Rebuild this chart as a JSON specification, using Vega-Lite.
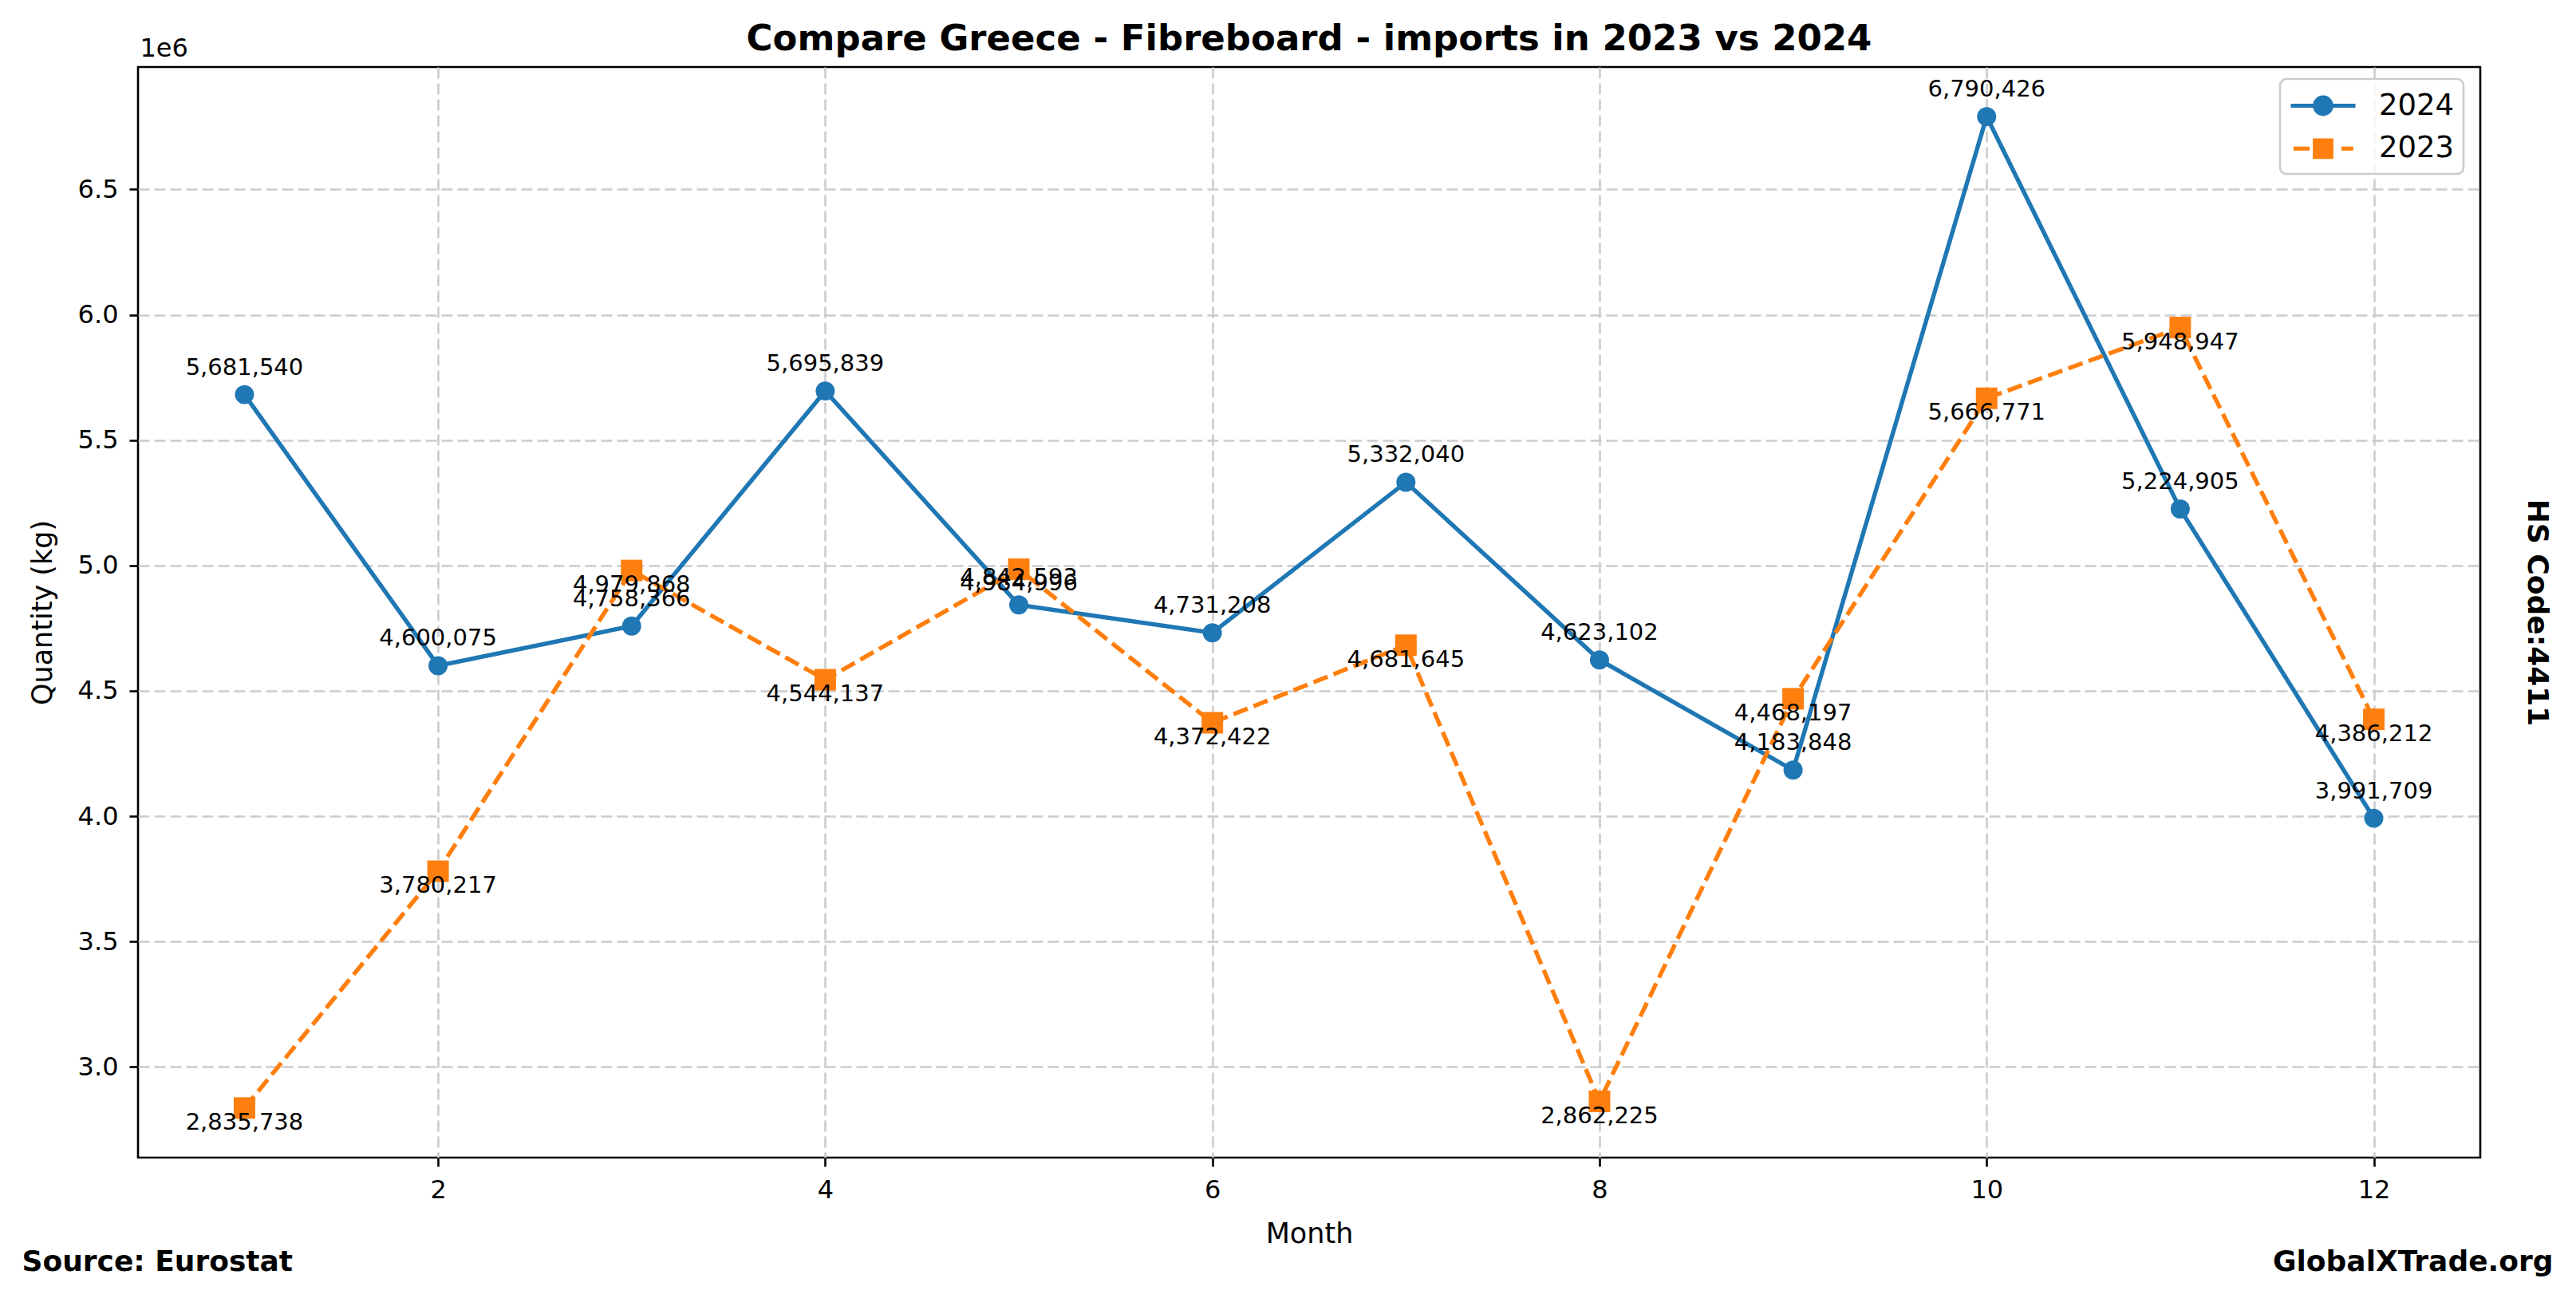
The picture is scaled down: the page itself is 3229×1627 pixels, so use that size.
{
  "$schema": "https://vega.github.io/schema/vega-lite/v6.json",
  "width": 2936,
  "height": 1367,
  "autosize": {"type": "none"},
  "padding": {"left": 173, "top": 84, "right": 120, "bottom": 176},
  "background": "white",
  "config": {
    "view": {"stroke": "black", "strokeWidth": 2.6},
    "font": "DejaVu Sans",
    "axis": {"labelFont": "DejaVu Sans", "titleFont": "DejaVu Sans", "labelColor": "black", "titleColor": "black", "tickColor": "black", "domain": false, "titleFontWeight": "normal"}
  },
  "title": {
    "text": "Compare Greece - Fibreboard - imports in 2023 vs 2024",
    "font": "DejaVu Sans",
    "fontSize": 45,
    "fontWeight": "bold",
    "color": "black",
    "anchor": "middle",
    "baseline": "alphabetic",
    "offset": -64
  },
  "data": {
    "values": [
      {"month": 1, "year": "2024", "value": 5681540},
      {"month": 2, "year": "2024", "value": 4600075},
      {"month": 3, "year": "2024", "value": 4758366},
      {"month": 4, "year": "2024", "value": 5695839},
      {"month": 5, "year": "2024", "value": 4842593},
      {"month": 6, "year": "2024", "value": 4731208},
      {"month": 7, "year": "2024", "value": 5332040},
      {"month": 8, "year": "2024", "value": 4623102},
      {"month": 9, "year": "2024", "value": 4183848},
      {"month": 10, "year": "2024", "value": 6790426},
      {"month": 11, "year": "2024", "value": 5224905},
      {"month": 12, "year": "2024", "value": 3991709},
      {"month": 1, "year": "2023", "value": 2835738},
      {"month": 2, "year": "2023", "value": 3780217},
      {"month": 3, "year": "2023", "value": 4979868},
      {"month": 4, "year": "2023", "value": 4544137},
      {"month": 5, "year": "2023", "value": 4984996},
      {"month": 6, "year": "2023", "value": 4372422},
      {"month": 7, "year": "2023", "value": 4681645},
      {"month": 8, "year": "2023", "value": 2862225},
      {"month": 9, "year": "2023", "value": 4468197},
      {"month": 10, "year": "2023", "value": 5666771},
      {"month": 11, "year": "2023", "value": 5948947},
      {"month": 12, "year": "2023", "value": 4386212}
    ]
  },
  "layer": [
    {
      "transform": [{"filter": "datum.year === '2024'"}],
      "mark": {"type": "line", "strokeWidth": 5.4},
      "encoding": {
        "x": {"field": "month", "type": "quantitative",
          "scale": {"domain": [0.45, 12.55], "nice": false, "zero": false},
          "axis": {"values": [2, 4, 6, 8, 10, 12], "format": "d", "title": "Month", "titleFontSize": 35, "titleY": 106, "titleBaseline": "alphabetic", "labelFontSize": 32, "labelBaseline": "alphabetic", "labelPadding": 39, "labelFlush": false, "labelOverlap": false, "tickSize": 11, "tickWidth": 2.6, "grid": true, "gridColor": "#cccccc", "gridDash": [14, 6], "gridWidth": 2.6}},
        "y": {"field": "value", "type": "quantitative",
          "scale": {"domain": [2638004, 6988160], "nice": false, "zero": false},
          "axis": {"values": [3000000, 3500000, 4000000, 4500000, 5000000, 5500000, 6000000, 6500000], "labelExpr": "format(datum.value / 1000000, '.1f')", "title": "Quantity (kg)", "titleFontSize": 35, "titleAngle": 270, "titleX": -109, "titleY": 683.5, "titleBaseline": "alphabetic", "titleAlign": "center", "labelFontSize": 32, "labelPadding": 14, "labelBaseline": "middle", "labelFlush": false, "labelOverlap": false, "tickSize": 11, "tickWidth": 2.6, "grid": true, "gridColor": "#cccccc", "gridDash": [14, 6], "gridWidth": 2.6}},
        "color": {"field": "year", "type": "nominal",
          "scale": {"domain": ["2024", "2023"], "range": ["#1f77b4", "#ff7f0e"]},
          "legend": {
            "title": null, "orient": "none", "legendX": 2685, "legendY": 15, "padding": 11,
            "strokeColor": "#cccccc", "fillColor": "rgba(255,255,255,0.8)", "cornerRadius": 8,
            "labelFont": "DejaVu Sans", "labelFontSize": 37, "labelColor": "black", "labelBaseline": "middle", "labelOffset": 68,
            "symbolSize": 1600, "symbolStrokeWidth": 4.8, "rowPadding": 10.8,
            "encode": {
              "legend": {"update": {"strokeWidth": {"value": 2.6}}},
              "symbols": {"update": {
              "shape": {"signal": "datum.value === '2024' ? 'M-1,0L3.05,0M0.505,0A0.52,0.52,0,1,0,1.545,0A0.52,0.52,0,1,0,0.505,0Z' : 'M-0.83,0L0.18,0M2.175,0L2.92,0M0.505,-0.52L1.545,-0.52L1.545,0.52L0.505,0.52Z'"},
              "fill": {"signal": "datum.value === '2024' ? '#1f77b4' : '#ff7f0e'"},
              "stroke": {"signal": "datum.value === '2024' ? '#1f77b4' : '#ff7f0e'"},
              "strokeDash": {"value": []},
              "strokeWidth": {"value": 5.0},
              "opacity": {"value": 1}
            }}}
          }}
      }
    },
    {
      "transform": [{"filter": "datum.year === '2024'"}],
      "mark": {"type": "point", "shape": "circle", "filled": true, "size": 573, "opacity": 1},
      "encoding": {
        "x": {"field": "month", "type": "quantitative", "scale": {"domain": [0.45, 12.55], "nice": false, "zero": false}, "axis": null},
        "y": {"field": "value", "type": "quantitative", "scale": {"domain": [2638004, 6988160], "nice": false, "zero": false}, "axis": null},
        "color": {"field": "year", "type": "nominal", "scale": {"domain": ["2024", "2023"], "range": ["#1f77b4", "#ff7f0e"]}, "legend": null}
      }
    },
    {
      "transform": [{"filter": "datum.year === '2023'"}],
      "mark": {"type": "line", "strokeWidth": 5.4, "strokeDash": [19, 8]},
      "encoding": {
        "x": {"field": "month", "type": "quantitative", "scale": {"domain": [0.45, 12.55], "nice": false, "zero": false},
          "axis": {"orient": "top", "title": "1e6", "titleFontSize": 32, "titleX": 2, "titleY": -14, "titleAlign": "left", "titleBaseline": "alphabetic", "labels": false, "ticks": false, "domain": false, "grid": false}},
        "y": {"field": "value", "type": "quantitative", "scale": {"domain": [2638004, 6988160], "nice": false, "zero": false},
          "axis": {"orient": "right", "title": "HS Code:4411", "titleFontSize": 36, "titleFontWeight": "bold", "titleAngle": 90, "titleX": 59, "titleY": 683.5, "titleAlign": "center", "titleBaseline": "alphabetic", "labels": false, "ticks": false, "domain": false, "grid": false}},
        "color": {"field": "year", "type": "nominal", "scale": {"domain": ["2024", "2023"], "range": ["#1f77b4", "#ff7f0e"]}, "legend": null}
      }
    },
    {
      "transform": [{"filter": "datum.year === '2023'"}],
      "mark": {"type": "point", "shape": "square", "filled": true, "size": 729, "opacity": 1},
      "encoding": {
        "x": {"field": "month", "type": "quantitative", "scale": {"domain": [0.45, 12.55], "nice": false, "zero": false}, "axis": null},
        "y": {"field": "value", "type": "quantitative", "scale": {"domain": [2638004, 6988160], "nice": false, "zero": false}, "axis": null},
        "color": {"field": "year", "type": "nominal", "scale": {"domain": ["2024", "2023"], "range": ["#1f77b4", "#ff7f0e"]}, "legend": null}
      }
    },
    {
      "transform": [{"filter": "datum.year === '2024'"}],
      "mark": {"type": "text", "dy": -25, "baseline": "alphabetic", "align": "center", "fontSize": 29, "font": "DejaVu Sans", "color": "black"},
      "encoding": {
        "x": {"field": "month", "type": "quantitative", "scale": {"domain": [0.45, 12.55], "nice": false, "zero": false},
          "axis": {"orient": "bottom", "title": "Source: Eurostat", "titleFontSize": 36, "titleFontWeight": "bold", "titleX": -146, "titleY": 141, "titleAlign": "left", "titleBaseline": "alphabetic", "labels": false, "ticks": false, "domain": false, "grid": false}},
        "y": {"field": "value", "type": "quantitative", "scale": {"domain": [2638004, 6988160], "nice": false, "zero": false}, "axis": null},
        "text": {"field": "value", "type": "quantitative", "format": ","}
      }
    },
    {
      "transform": [{"filter": "datum.year === '2023'"}],
      "mark": {"type": "text", "dy": 27, "baseline": "alphabetic", "align": "center", "fontSize": 29, "font": "DejaVu Sans", "color": "black"},
      "encoding": {
        "x": {"field": "month", "type": "quantitative", "scale": {"domain": [0.45, 12.55], "nice": false, "zero": false},
          "axis": {"orient": "bottom", "title": "GlobalXTrade.org", "titleFontSize": 36, "titleFontWeight": "bold", "titleX": 3027, "titleY": 141, "titleAlign": "right", "titleBaseline": "alphabetic", "labels": false, "ticks": false, "domain": false, "grid": false}},
        "y": {"field": "value", "type": "quantitative", "scale": {"domain": [2638004, 6988160], "nice": false, "zero": false}, "axis": null},
        "text": {"field": "value", "type": "quantitative", "format": ","}
      }
    }
  ],
  "resolve": {"axis": {"x": "independent", "y": "independent"}}
}
